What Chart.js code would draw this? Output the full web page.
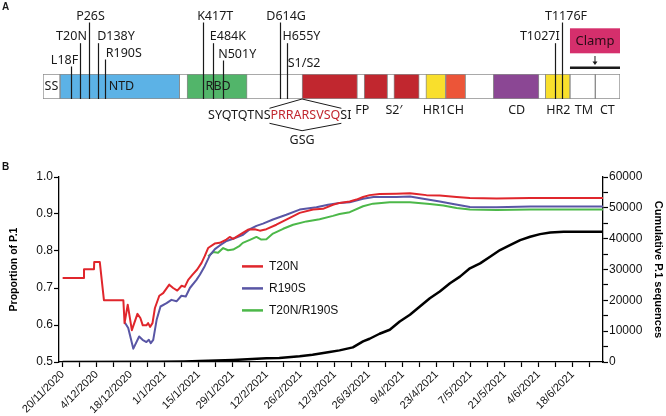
<!DOCTYPE html>
<html lang="en">
<head>
<meta charset="UTF-8">
<title>P.1 spike mutations</title>
<script src="https://cdn.jsdelivr.net/npm/chart.js@4"></script>
<style>
  html, body { margin: 0; padding: 0; background: #fff; }
  #wrap { position: relative; width: 666px; height: 416px; }
  #panelA { position: absolute; left: 0; top: 0; }
  #panelB { position: absolute; left: 0; top: 160px; }
</style>
</head>
<body>
<div id="wrap">
  <canvas id="panelA" width="666" height="160"></canvas>
  <canvas id="panelB" width="666" height="256"></canvas>
</div>
<script>
// ---------- panel A: spike domain map, schematic units 0-1000 along the bar ----------
const domainNames  = ['SS', 'NTD', 'RBD', 'S1/S2-FP', 'FP', 'S2\u2032', 'HR1', 'CH', 'CD', 'HR2', 'TM', 'CT'];
const domainStart  = [0, 29.5, 249.7, 449, 556.6, 608.1, 663.6, 697.8, 780.3, 870.5, 913.3, 957.2];
const domainEnd    = [29.5, 237, 353.7, 545, 597.2, 652, 697.8, 732.4, 859.5, 913.3, 957.2, 1000];
const domainColors = ['#ffffff', '#5cb2e6', '#52b56a', '#c1272f', '#c1272f', '#c1272f',
                      '#f9df2c', '#ec5538', '#8b4794', '#f9df2c', '#ffffff', '#ffffff'];

const mutNames = ['L18F', 'T20N', 'P26S', 'D138Y', 'R190S', 'K417T', 'E484K', 'N501Y',
                  'D614G', 'H655Y', 'T1027I', 'T1176F'];
const mutPos   = [48.6, 64.2, 79.2, 94.9, 108.2, 276.9, 294.8, 312.1, 411.6, 423.1, 887.3, 899.9];

const innerLabels   = ['SS', 'NTD', 'RBD'];
const innerLabelPos = [14.6, 135.9, 303.5];
const belowLabels   = ['FP', 'S2\u2032', 'HR1CH', 'CD', 'HR2', 'TM', 'CT'];
const belowLabelPos = [553.5, 608.1, 693.8, 820.9, 893, 937.6, 978];

const seqParts = ['SYQTQTNS', 'PRRARSVSQ', 'SI'];
const seqInsert = 'GSG';
const seqStart = 286;

// ---------- panel B: P.1 proportions (days from 20/11/2020) ----------
const dateLabels = ['20/11/2020', '4/12/2020', '18/12/2020', '1/1/2021', '15/1/2021', '29/1/2021',
  '12/2/2021', '26/2/2021', '12/3/2021', '26/3/2021', '9/4/2021', '23/4/2021', '7/5/2021',
  '21/5/2021', '4/6/2021', '18/6/2021'];

const t20nDays = [0, 8.8, 8.8, 12.9, 13, 15.3, 17, 25, 25.5, 26.8, 28.5, 30.8, 32, 33, 34.5, 35.2, 36, 37,
  38, 39.8, 41.4, 43.9, 45.5, 47.2, 49, 50.3, 51.7, 53.5, 55.4, 57.2, 58.5, 59.9, 62.6, 64.7, 67.4, 68.8,
  70.2, 73, 76.4, 79.1, 81.2, 83.9, 88, 92.1, 97.6, 103.1, 107.2, 111.3, 114, 118.2, 121, 123.7, 126.4,
  130.5, 137.4, 143, 145.7, 149.8, 155.3, 162.2, 167.7, 178.7, 192.5, 222.5];
const t20nVals = [0.727, 0.727, 0.751, 0.751, 0.770, 0.770, 0.667, 0.667, 0.605, 0.655, 0.586, 0.630,
  0.619, 0.599, 0.599, 0.605, 0.595, 0.605, 0.646, 0.679, 0.686, 0.709, 0.700, 0.693, 0.706, 0.703,
  0.722, 0.736, 0.750, 0.768, 0.786, 0.808, 0.820, 0.822, 0.831, 0.838, 0.833, 0.844, 0.858, 0.859,
  0.855, 0.859, 0.871, 0.885, 0.903, 0.912, 0.914, 0.925, 0.930, 0.934, 0.939, 0.946, 0.951, 0.954,
  0.955, 0.956, 0.954, 0.951, 0.950, 0.946, 0.943, 0.942, 0.943, 0.943];

const r190sDays = [25.6, 27, 29.1, 31.5, 32.9, 34.5, 35.5, 36.3, 37.3, 38.7, 40.3, 42.8, 44.8, 46.9,
  48.9, 50.7, 52.4, 55.1, 56.5, 58.5, 60.6, 62.7, 64.7, 67.5, 70.2, 74.3, 77.1, 79.8, 82.5, 86.6, 92.1,
  97.6, 104.5, 109.3, 114, 118.2, 123.7, 128, 137.4, 143, 148.5, 155.3, 160.8, 167.7, 178.7, 192.5, 222.5];
const r190sVals = [0.607, 0.592, 0.536, 0.569, 0.560, 0.554, 0.560, 0.551, 0.560, 0.614, 0.650, 0.659,
  0.668, 0.664, 0.679, 0.677, 0.700, 0.722, 0.736, 0.759, 0.788, 0.805, 0.815, 0.827, 0.833, 0.844,
  0.859, 0.868, 0.874, 0.885, 0.898, 0.912, 0.918, 0.925, 0.930, 0.932, 0.941, 0.946, 0.946, 0.947,
  0.941, 0.934, 0.927, 0.919, 0.918, 0.920, 0.920];

const bothDays = [59.9, 62, 64, 66.1, 68.1, 70.2, 72.9, 74.2, 77.1, 79.8, 81.8, 83.9, 86.6, 90.8, 94.9,
  100.4, 105.8, 111.3, 114, 118.2, 123.7, 127.8, 134.7, 143, 151.2, 156.7, 162.2, 167.7, 178.7, 192.5, 222.5];
const bothVals = [0.786, 0.797, 0.795, 0.808, 0.802, 0.804, 0.814, 0.822, 0.830, 0.838, 0.831, 0.832,
  0.847, 0.860, 0.871, 0.880, 0.886, 0.895, 0.900, 0.905, 0.921, 0.928, 0.932, 0.932, 0.927, 0.923,
  0.916, 0.912, 0.911, 0.912, 0.912];

const cumDays = [0, 40, 50, 56.5, 70.2, 83.9, 89.2, 97.6, 102.9, 109.9, 114, 119.5, 123.7, 126.4, 130.5,
  134.7, 138.8, 143, 147.1, 151.2, 155.3, 159.5, 163.6, 167.7, 171.9, 176, 180.1, 184.2, 188.4, 192.5,
  196.6, 200.8, 206.3, 222.5];
const cumVals = [0, 50, 150, 320, 650, 1180, 1300, 1830, 2370, 3230, 3770, 4740, 6680, 7540, 9160,
  10450, 13140, 15300, 17990, 20680, 22840, 25530, 27680, 30380, 31990, 34150, 36300, 37920, 39530,
  40610, 41470, 42010, 42230, 42230];

Chart.defaults.font.family = '"Liberation Sans", Arial, sans-serif';
Chart.defaults.color = '#111';

const toXY = (days, vals) => days.map((d, i) => ({ x: d, y: vals[i] }));

// ---------- panel A ----------
const spikeLabels = {
  id: 'spikeLabels',
  afterDatasetsDraw(chart) {
    const { ctx, chartArea: area, scales: { x } } = chart;
    const barBot = area.bottom, barMid = (area.top + area.bottom) / 2;
    const ink = '#1a1a1a';
    // label row (centre y) and text offset from its line, per mutation
    const rowY = [60, 36.7, 16, 36.7, 53, 16, 36.7, 54, 16, 36.7, 36.7, 16];
    const textDx = [-7, -9, 1, 17.5, 18.3, 11.7, 14.4, 13.7, 5.6, 14, -15.7, 3.5];

    ctx.save();
    ctx.font = '12.5px "Noto Sans"';
    ctx.textBaseline = 'middle';
    ctx.textAlign = 'center';
    ctx.fillStyle = ink;
    ctx.strokeStyle = ink;
    ctx.lineWidth = 1.2;

    mutNames.forEach((m, i) => {
      const px = Math.round(x.getPixelForValue(mutPos[i])) + 0.5;
      ctx.beginPath();
      ctx.moveTo(px, rowY[i] + 6.5);
      ctx.lineTo(px, barBot);
      ctx.stroke();
      ctx.fillText(m, px + textDx[i], rowY[i]);
    });

    const site = x.getPixelForValue(domainStart[3]);
    ctx.fillText('S1/S2', site + 2, 63);

    innerLabels.forEach((t, i) => ctx.fillText(t, x.getPixelForValue(innerLabelPos[i]), barMid));
    belowLabels.forEach((t, i) => ctx.fillText(t, x.getPixelForValue(belowLabelPos[i]), barBot + 11));

    // furin-site sequence with hexagon bracket
    const sy = barBot + 16.7;
    let sx = x.getPixelForValue(seqStart);
    ctx.textAlign = 'left';
    const w = seqParts.map(p => ctx.measureText(p).width);
    ctx.fillText(seqParts[0], sx, sy);
    ctx.fillStyle = '#c1272f';
    ctx.fillText(seqParts[1], sx + w[0], sy);
    ctx.fillStyle = ink;
    ctx.fillText(seqParts[2], sx + w[0] + w[1], sy);
    const redL = sx + w[0] - 1, redR = sx + w[0] + w[1] + 1;
    ctx.lineWidth = 1;
    ctx.beginPath();
    ctx.moveTo(redL, barBot + 9.3);
    ctx.lineTo(site, barBot);
    ctx.lineTo(redR, barBot + 9.3);
    ctx.moveTo(redL, barBot + 24.3);
    ctx.lineTo(site, barBot + 31.7);
    ctx.lineTo(redR, barBot + 24.3);
    ctx.stroke();
    ctx.textAlign = 'center';
    ctx.fillText(seqInsert, site, barBot + 41);

    // clamp box over TM/CT
    const c0 = x.getPixelForValue(domainStart[10]), c1 = x.getPixelForValue(domainEnd[11]);
    const cm = (c0 + c1) / 2;
    ctx.fillStyle = '#d52f6c';
    ctx.fillRect(c0, 28.3, c1 - c0, 25);
    ctx.fillStyle = '#2a0c16';
    ctx.font = '13px "Noto Sans"';
    ctx.fillText('Clamp', cm, 41);
    ctx.strokeStyle = ink;
    ctx.lineWidth = 1;
    ctx.beginPath();
    ctx.moveTo(cm, 56);
    ctx.lineTo(cm, 63);
    ctx.stroke();
    ctx.fillStyle = ink;
    ctx.beginPath();
    ctx.moveTo(cm - 2.5, 61.5);
    ctx.lineTo(cm + 2.5, 61.5);
    ctx.lineTo(cm, 65);
    ctx.closePath();
    ctx.fill();
    ctx.lineWidth = 2.6;
    ctx.beginPath();
    ctx.moveTo(c0, 67.7);
    ctx.lineTo(c1, 67.7);
    ctx.stroke();

    ctx.font = 'bold 10px "Liberation Sans"';
    ctx.textAlign = 'left';
    ctx.fillText('A', 2, 7);
    ctx.restore();
  }
};

const domainSets = domainNames.map((n, i) => ({
  label: n,
  data: [[domainStart[i], domainEnd[i]]],
  backgroundColor: domainColors[i],
  borderColor: '#8c8c8c',
  borderWidth: 1,
  borderSkipped: false,
  grouped: false,
  categoryPercentage: 1,
  barPercentage: 1,
  order: 0
}));
domainSets.push({
  label: 'spike',
  data: [[0, 1000]],
  backgroundColor: '#ffffff',
  borderColor: '#8c8c8c',
  borderWidth: 1.2,
  borderSkipped: false,
  grouped: false,
  categoryPercentage: 1,
  barPercentage: 1,
  order: 1
});

new Chart(document.getElementById('panelA'), {
  type: 'bar',
  data: { labels: ['spike'], datasets: domainSets },
  options: {
    responsive: false,
    animation: false,
    indexAxis: 'y',
    layout: { padding: { left: 43, right: 46, top: 74, bottom: 61 } },
    plugins: { legend: { display: false }, tooltip: { enabled: false } },
    scales: {
      x: { type: 'linear', min: 0, max: 1000, display: false },
      y: { display: false }
    }
  },
  plugins: [spikeLabels]
});

// ---------- panel B ----------
const insideLegend = {
  id: 'insideLegend',
  afterDatasetsDraw(chart) {
    const { ctx, chartArea: area } = chart;
    ctx.save();
    ctx.font = '12px "Liberation Sans"';
    ctx.textBaseline = 'middle';
    ctx.textAlign = 'left';
    for (let i = 0; i < 3; i++) {
      const ds = chart.data.datasets[i];
      const y = area.top + 89.4 + i * 22;
      ctx.strokeStyle = ds.borderColor;
      ctx.lineWidth = 2.5;
      ctx.beginPath();
      ctx.moveTo(area.left + 183, y);
      ctx.lineTo(area.left + 204, y);
      ctx.stroke();
      ctx.fillStyle = '#111';
      ctx.fillText(ds.label, area.left + 210, y);
    }
    ctx.font = 'bold 10px "Liberation Sans"';
    ctx.fillText('B', 2, 7);
    ctx.restore();
  }
};

const axisGrid = { drawOnChartArea: false, color: '#000', tickLength: 5, tickWidth: 1.2 };
const axisBorder = { color: '#000', width: 1.3 };

new Chart(document.getElementById('panelB'), {
  type: 'line',
  data: {
    datasets: [
      { label: 'T20N', data: toXY(t20nDays, t20nVals), borderColor: '#e0262c', borderWidth: 2, yAxisID: 'y' },
      { label: 'R190S', data: toXY(r190sDays, r190sVals), borderColor: '#5956a5', borderWidth: 2, yAxisID: 'y' },
      { label: 'T20N/R190S', data: toXY(bothDays, bothVals), borderColor: '#4cb849', borderWidth: 2, yAxisID: 'y' },
      { label: 'Cumulative P.1', data: toXY(cumDays, cumVals), borderColor: '#000', borderWidth: 2.5, yAxisID: 'y1' }
    ]
  },
  options: {
    responsive: false,
    animation: false,
    elements: { point: { radius: 0 }, line: { tension: 0, borderJoinStyle: 'round' } },
    layout: { padding: { top: 17, left: 0, right: 0, bottom: 0 } },
    plugins: { legend: { display: false }, tooltip: { enabled: false } },
    scales: {
      x: {
        type: 'linear', min: -1.5, max: 222.5,
        grid: axisGrid, border: axisBorder,
        afterBuildTicks: s => { s.ticks = []; for (let d = 0; d <= s.max; d += 7) s.ticks.push({ value: d }); },
        afterFit: s => { s.height = 54; },
        ticks: {
          autoSkip: false, minRotation: 45, maxRotation: 45, padding: 1,
          color: '#111', font: { size: 11 },
          callback: v => (v % 14 === 0 ? dateLabels[v / 14] : '')
        }
      },
      y: {
        position: 'left', min: 0.5, max: 1.0,
        grid: axisGrid, border: axisBorder,
        afterFit: s => { s.width = 59; },
        ticks: { stepSize: 0.1, padding: 1, color: '#111', font: { size: 12 }, callback: v => v.toFixed(1) },
        title: { display: true, text: 'Proportion of P.1', color: '#000',
                 font: { size: 10.5, weight: 'bold' }, padding: { top: 8, bottom: 0 } }
      },
      y1: {
        position: 'right', min: 0, max: 60000,
        grid: axisGrid, border: axisBorder,
        afterFit: s => { s.width = 63; },
        afterBuildTicks: s => { s.ticks = []; for (let v = 0; v <= 60000; v += 5000) s.ticks.push({ value: v }); },
        ticks: { autoSkip: false, padding: 1, color: '#111', font: { size: 12 },
                 callback: v => (v % 10000 === 0 ? String(v) : '') },
        title: { display: true, text: 'Cumulative P.1 sequences', color: '#000',
                 font: { size: 11, weight: 'bold' }, padding: { top: 1, bottom: 0 } }
      }
    }
  },
  plugins: [insideLegend]
});
</script>
</body>
</html>
